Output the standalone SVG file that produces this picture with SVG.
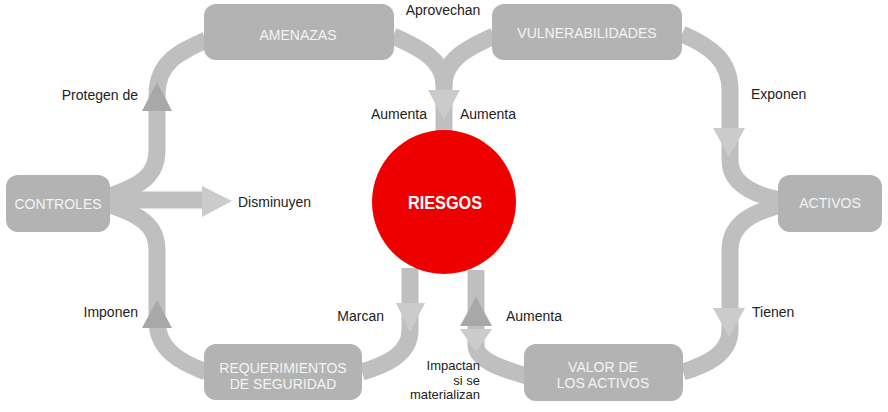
<svg xmlns="http://www.w3.org/2000/svg" width="888" height="412" viewBox="0 0 888 412">
<style>
.band{fill:none;stroke:#bfbfbf;stroke-width:17;stroke-linejoin:round}
.up{fill:#a8a8a8}
.down{fill:#cbcbcb}
.box{fill:#b3b3b3}
.nt{font-family:"Liberation Sans",Arial,sans-serif;font-size:14px;fill:#f4f4f4;text-anchor:middle}
.lb{font-family:"Liberation Sans",Arial,sans-serif;font-size:14px;fill:#222}
.sm{font-size:13px}
.end{text-anchor:end}
.mid{text-anchor:middle}
</style>
<rect width="888" height="412" fill="#ffffff"/>
<g id="connectors">
  <path class="band" d="M110 196 C140 186 157 176 157 150 L157 95 C157 62 180 52 206 40"/>
  <path class="band" d="M206 372 C180 362 157 350 157 320 L157 250 C157 225 140 215 110 205"/>
  <path class="band" d="M393 36 C420 48 444 60 444 85 L444 132"/>
  <path class="band" d="M494 36 C467 48 444 60 444 85"/>
  <path class="band" d="M682 34 C710 46 730 60 730 90 L730 160 C730 185 755 195 780 200"/>
  <path class="band" d="M780 205 C755 212 730 222 730 250 L730 330 C730 355 705 365 683 372"/>
  <path class="band" d="M476 270 L476 345 C476 360 500 368 526 376"/>
  <path class="band" d="M410 268 L410 330 C410 355 385 365 362 372"/>
  <path class="band" stroke-width="15" d="M110 200 L205 200"/>
  <polygon class="down" points="202,186 232,201 202,217"/>
  <polygon class="up" points="142,111 172,111 157,82"/>
  <polygon class="up" points="142,328 172,328 157,300"/>
  <polygon class="down" points="428,90 460,90 444,120"/>
  <polygon class="down" points="713,128 745,128 729,157"/>
  <polygon class="down" points="713,308 745,308 729,337"/>
  <polygon class="down" points="396,303 425,303 410,332"/>
  <polygon class="up" points="460,326 492,326 476,297"/>
  <polygon class="down" points="460,329 492,329 476,352"/>
</g>
<g id="amenazas">
  <rect class="box" x="204" y="4" width="190" height="56" rx="12"/>
  <text class="nt" x="298" y="40">AMENAZAS</text>
</g>
<g id="vulnerabilidades">
  <rect class="box" x="492" y="4" width="190" height="56" rx="12"/>
  <text class="nt" x="587" y="38">VULNERABILIDADES</text>
</g>
<g id="controles">
  <rect class="box" x="6" y="175" width="104" height="57" rx="12"/>
  <text class="nt" x="58" y="209">CONTROLES</text>
</g>
<g id="activos">
  <rect class="box" x="778" y="175" width="104" height="57" rx="12"/>
  <text class="nt" x="830" y="208">ACTIVOS</text>
</g>
<g id="requerimientos">
  <rect class="box" x="204" y="344" width="158" height="56" rx="12"/>
  <text class="nt" x="283" y="373">REQUERIMIENTOS</text>
  <text class="nt" x="283" y="389">DE SEGURIDAD</text>
</g>
<g id="valor">
  <rect class="box" x="524" y="344" width="159" height="57" rx="12"/>
  <text class="nt" x="603" y="372">VALOR DE</text>
  <text class="nt" x="603" y="388">LOS ACTIVOS</text>
</g>
<g id="riesgos">
  <circle cx="444" cy="202" r="72" fill="#ee0000"/>
  <text x="445" y="209" text-anchor="middle" font-family="'Liberation Sans',Arial,sans-serif" font-weight="bold" font-size="19" fill="#ffffff" textLength="74" lengthAdjust="spacingAndGlyphs">RIESGOS</text>
</g>
<g id="labels">
  <text class="lb mid" x="443" y="15">Aprovechan</text>
  <text class="lb end" x="138" y="100">Protegen de</text>
  <text class="lb end" x="427" y="119">Aumenta</text>
  <text class="lb" x="460" y="119">Aumenta</text>
  <text class="lb" x="751" y="99">Exponen</text>
  <text class="lb" x="238" y="207">Disminuyen</text>
  <text class="lb end" x="138" y="317">Imponen</text>
  <text class="lb end" x="384" y="321">Marcan</text>
  <text class="lb" x="506" y="321">Aumenta</text>
  <text class="lb" x="752" y="317">Tienen</text>
  <text class="lb sm end" x="480" y="370">Impactan</text>
  <text class="lb sm end" x="480" y="384.5">si se</text>
  <text class="lb sm end" x="480" y="399">materializan</text>
</g>
</svg>
